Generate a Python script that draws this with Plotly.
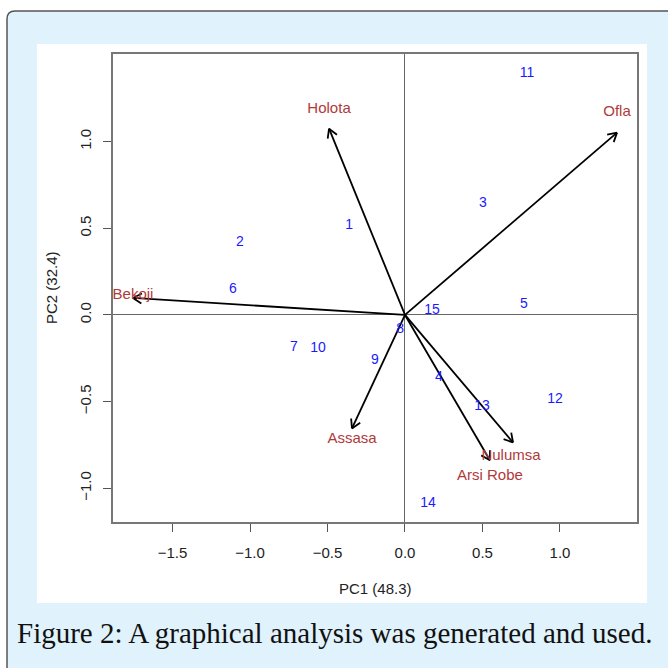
import math
import plotly.graph_objects as go

# Genotype scores
geno_labels = ["1", "2", "3", "4", "5", "6", "7", "8", "9", "10", "11", "12", "13", "14", "15"]
geno_pc1 = [-0.36, -1.065, 0.503, 0.219, 0.768, -1.11, -0.716, -0.032, -0.194, -0.561, 0.787, 0.968, 0.497, 0.148, 0.174]
geno_pc2 = [0.517, 0.42, 0.644, -0.362, 0.063, 0.149, -0.19, -0.086, -0.264, -0.195, 1.391, -0.489, -0.529, -1.086, 0.023]

# Environment vectors (arrow tips) and label positions
env_labels = ["Holota", "Ofla", "Bekoji", "Assasa", "Nulumsa", "Arsi Robe"]
env_pc1 = [-0.49, 1.368, -1.755, -0.342, 0.697, 0.548]
env_pc2 = [1.075, 1.052, 0.098, -0.655, -0.736, -0.839]
env_lab_pc1 = [-0.49, 1.368, -1.755, -0.342, 0.684, 0.548]
env_lab_pc2 = [1.189, 1.167, 0.115, -0.718, -0.816, -0.931]

x_ticks = [-1.5, -1.0, -0.5, 0.0, 0.5, 1.0]
y_ticks = [-1.0, -0.5, 0.0, 0.5, 1.0]
x_range = [-1.884, 1.497]
y_range = [-1.195, 1.506]

W, H = 668, 668
L, R, T, B = 113, 31, 54, 146
pw, ph = W - L - R, H - T - B
sx = pw / (x_range[1] - x_range[0])
sy = ph / (y_range[1] - y_range[0])

fig = go.Figure()

# arrow shafts and heads
lx, ly = [], []
head_len = 10
for ex, ey in zip(env_pc1, env_pc2):
    lx += [0, ex, None]
    ly += [0, ey, None]
    dxp, dyp = ex * sx, ey * sy
    ang = math.atan2(dyp, dxp)
    for s in (1, -1):
        a = ang + math.pi - s * math.radians(30)
        hx = ex + head_len * math.cos(a) / sx
        hy = ey + head_len * math.sin(a) / sy
        lx += [ex, hx, None]
        ly += [ey, hy, None]
fig.add_trace(go.Scatter(x=lx, y=ly, mode="lines", line=dict(color="black", width=1.8),
                         hoverinfo="skip", showlegend=False))

fig.add_trace(go.Scatter(x=geno_pc1, y=geno_pc2, mode="text", text=geno_labels,
                         textfont=dict(family="Liberation Sans, Arial", size=14, color="#1a1aff"),
                         textposition="middle center", showlegend=False))
fig.add_trace(go.Scatter(x=env_lab_pc1, y=env_lab_pc2, mode="text", text=env_labels,
                         textfont=dict(family="Liberation Sans, Arial", size=15, color="#b03a3a"),
                         textposition="middle center", showlegend=False))

def px_to_paper_x(px):
    return (px - L) / pw

def py_to_paper_y(py):
    return (H - B - py) / ph

# outer rounded box
x0, y0, x1, y1, r = 7, 11, 690, 690, 8
X0, X1 = px_to_paper_x(x0), px_to_paper_x(x1)
Y0, Y1 = py_to_paper_y(y0), py_to_paper_y(y1)
rx, ry = r / pw, r / ph
path = (f"M {X0+rx},{Y0} L {X1},{Y0} L {X1},{Y1} L {X0},{Y1} L {X0},{Y0-ry} "
        f"Q {X0},{Y0} {X0+rx},{Y0} Z")
shapes = [
    dict(type="path", xref="paper", yref="paper", path=path, fillcolor="#e0f2fb",
         line=dict(color="#555555", width=1.5), layer="below"),
    dict(type="rect", xref="paper", yref="paper", x0=px_to_paper_x(37), x1=px_to_paper_x(647),
         y0=py_to_paper_y(44), y1=py_to_paper_y(603), fillcolor="white", line=dict(width=0), layer="below"),
]

annotations = [
    dict(text="PC1 (48.3)", xref="paper", yref="paper", x=0.5, y=py_to_paper_y(588),
         xanchor="center", yanchor="middle",
         showarrow=False, font=dict(family="Liberation Sans, Arial", size=15, color="#222")),
    dict(text="PC2 (32.4)", xref="paper", yref="paper", x=px_to_paper_x(51), y=0.5, textangle=-90,
         xanchor="center", yanchor="middle",
         showarrow=False, font=dict(family="Liberation Sans, Arial", size=15, color="#222")),
    dict(text="Figure 2: A graphical analysis was generated and used.", xref="paper", yref="paper",
         x=px_to_paper_x(334), y=py_to_paper_y(633), xanchor="center", yanchor="middle", showarrow=False,
         font=dict(family="Liberation Serif, DejaVu Serif, serif", size=29, color="#111")),
]

axis_common = dict(showgrid=False, showline=True, mirror=True, linecolor="#777777", linewidth=1.5,
                   ticks="outside", ticklen=8, tickcolor="#555555", tickwidth=1,
                   zeroline=True, zerolinecolor="#666666", zerolinewidth=1.2,
                   tickformat=".1f", tickfont=dict(family="Liberation Sans, Arial", size=15, color="#222"))

fig.update_layout(
    width=W, height=H, margin=dict(l=L, r=R, t=T, b=B),
    paper_bgcolor="white", plot_bgcolor="white",
    xaxis=dict(range=x_range, tickvals=x_ticks, ticklabelstandoff=8, **axis_common),
    yaxis=dict(range=y_range, tickvals=y_ticks, tickangle=-90, ticklabelstandoff=6, **axis_common),
    shapes=shapes, annotations=annotations,
)

fig.write_html("out.html", config={"displayModeBar": False},
               post_script="document.body.style.margin='0';document.body.style.overflow='hidden';")
